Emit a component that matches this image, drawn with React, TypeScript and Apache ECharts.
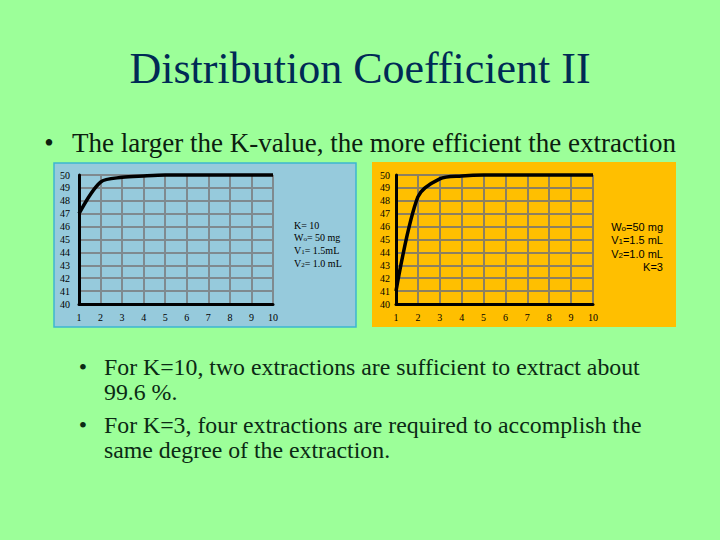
import { useEffect, useRef } from "react";
import * as echarts from "echarts";

// extraction number on the x axis
const extractions = [1, 2, 3, 4, 5, 6, 7, 8, 9, 10];
// mass extracted (mg)
const extractedK10 = [47.0, 49.45, 49.82, 49.93, 50, 50, 50, 50, 50, 50];
const extractedK3 = [41.0, 48.3, 49.7, 49.92, 50, 50, 50, 50, 50, 50];

const yTicks = { min: 40, max: 50, step: 1 };
const xTicks = { min: 1, max: 10, step: 1 };

const title = "Distribution Coefficient II";
const headline = "The larger the K-value, the more efficient the extraction";
const notes = [
  "For K=10, two extractions are sufficient to extract about",
  "99.6 %.",
  "For K=3, four extractions are required to accomplish the",
  "same degree of the extraction.",
];
const leftInfo = ["K= 10", "W{s|o}= 50 mg", "V{s|1}= 1.5mL", "V{s|2}= 1.0 mL"];
const rightInfo = ["W{s|o}=50 mg", "V{s|1}=1.5 mL", "V{s|2}=1.0 mL", "K=3"];

const SERIF = "'Liberation Serif', 'Times New Roman', serif";
const SANS = "'Liberation Sans', Arial, sans-serif";

export default function App() {
  const ref = useRef<HTMLDivElement>(null);

  useEffect(() => {
    const el = ref.current;
    if (!el) return;
    const chart = echarts.init(el, null, { renderer: "svg" });

    const makeX = (gridIndex: number, color: string): any => ({
      type: "value",
      gridIndex,
      min: xTicks.min,
      max: xTicks.max,
      interval: xTicks.step,
      axisLine: { show: true, onZero: false, lineStyle: { color: "#000", width: 3 } },
      axisTick: { show: false },
      axisLabel: { color: "#000", fontFamily: SERIF, fontSize: 10, margin: 8 },
      splitLine: { show: true, lineStyle: { color, width: 2 } },
    });
    const makeY = (gridIndex: number, color: string, margin: number): any => ({
      type: "value",
      gridIndex,
      min: yTicks.min,
      max: yTicks.max,
      interval: yTicks.step,
      axisLine: { show: true, onZero: false, lineStyle: { color: "#000", width: 3 } },
      axisTick: { show: false },
      axisLabel: { color: "#000", fontFamily: SERIF, fontSize: 10, margin },
      splitLine: { show: true, lineStyle: { color, width: 2 } },
    });

    const curve = (xi: number, values: number[]): any => ({
      type: "line",
      xAxisIndex: xi,
      yAxisIndex: xi,
      data: extractions.map((x, i) => [x, values[i]]),
      smooth: 0.3,
      showSymbol: false,
      clip: false,
      lineStyle: { color: "#000", width: 3.5 },
    });

    const infoText = (lines: string[], x: number, y: number, align: string, font: string, size: number, lh: number): any[] =>
      lines.map((t, i) => ({
        type: "text",
        x,
        y: y + i * lh,
        style: {
          text: t,
          fill: "#000",
          font: `${size}px ${font}`,
          align,
          verticalAlign: "middle",
          rich: {
            s: { fontSize: size - 3, fontFamily: font, fill: "#000", verticalAlign: "bottom" },
          },
        },
      }));

    const noteY = [367, 392, 425, 450];

    chart.setOption({
      animation: false,
      backgroundColor: "#9cff99",
      grid: [
        { left: 79, top: 175, width: 194, height: 129 },
        { left: 396, top: 175, width: 197, height: 129 },
      ],
      xAxis: [makeX(0, "#7f8a8f"), makeX(1, "#8c8060")],
      yAxis: [makeY(0, "#7f8a8f", 9), makeY(1, "#8c8060", 6)],
      series: [curve(0, extractedK10), curve(1, extractedK3)],
      graphic: [
        {
          type: "rect",
          z: -10,
          shape: { x: 54, y: 163, width: 302, height: 164 },
          style: { fill: "#96cadc", stroke: "#3db6cf", lineWidth: 1.5 },
        },
        {
          type: "rect",
          z: -10,
          shape: { x: 372, y: 162, width: 304, height: 165 },
          style: { fill: "#ffbf00" },
        },
        {
          type: "text",
          x: 360,
          y: 68,
          style: { text: title, fill: "#002a55", font: `44px ${SERIF}`, align: "center", verticalAlign: "middle" },
        },
        {
          type: "text",
          x: 49,
          y: 143,
          style: { text: "•", fill: "#0b200f", font: `27px ${SERIF}`, align: "center", verticalAlign: "middle" },
        },
        {
          type: "text",
          x: 72,
          y: 143,
          style: { text: headline, fill: "#0b200f", font: `27px ${SERIF}`, align: "left", verticalAlign: "middle" },
        },
        ...[0, 2].map((i) => ({
          type: "text",
          x: 83,
          y: noteY[i],
          style: { text: "•", fill: "#0b2a14", font: `23.8px ${SERIF}`, align: "center", verticalAlign: "middle" },
        })),
        ...notes.map((t, i) => ({
          type: "text",
          x: 104,
          y: noteY[i],
          style: { text: t, fill: "#0b2a14", font: `23.8px ${SERIF}`, align: "left", verticalAlign: "middle" },
        })),
        ...infoText(leftInfo, 294, 225, "left", SERIF, 10, 12.7),
        ...infoText(rightInfo, 663, 227, "right", SANS, 11, 13.3),
      ],
    });

    return () => chart.dispose();
  }, []);

  return <div ref={ref} style={{ position: "fixed", left: 0, top: 0, width: 720, height: 540 }} />;
}
